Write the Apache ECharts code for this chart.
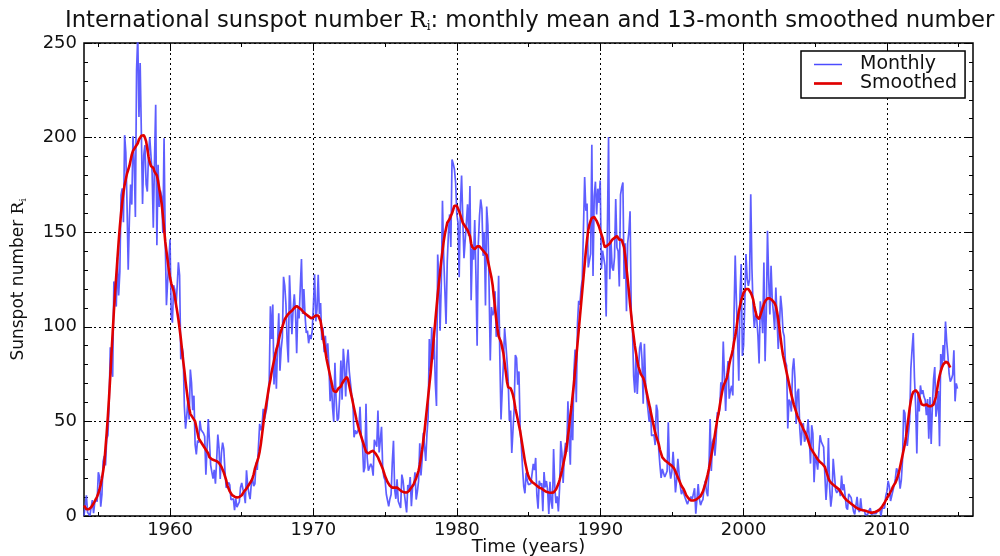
<!DOCTYPE html>
<html><head><meta charset="utf-8">
<script src="https://cdn.jsdelivr.net/npm/echarts@6/dist/echarts.min.js"></script>
<style>html,body{margin:0;padding:0;background:#fff}#c{width:1000px;height:556px}</style>
</head><body><div id="c"></div>
<script>
const startYear = 1954;
const xTickLabels = [1960, 1970, 1980, 1990, 2000, 2010];
const xMinorTicks = [1955, 1965, 1975, 1985, 1995, 2005, 2015];
const yTickLabels = [0, 50, 100, 150, 200, 250];

// Monthly mean sunspot number, Jan 1954 onward
const monthly1950s = [
 0.2, 0.5, 10.9, 1.8, 0.8, 0.2, 4.8, 8.4, 1.5, 7.0, 9.2, 7.6,
 23.1, 20.8, 4.9, 11.3, 28.9, 31.7, 26.7, 40.7, 42.7, 58.5, 89.2, 76.9,
 73.6, 124.0, 118.4, 110.7, 136.6, 116.6, 129.1, 169.6, 173.2, 155.3, 201.3, 192.1,
 165.0, 130.2, 157.4, 175.2, 164.6, 200.7, 187.2, 158.0, 235.8, 253.8, 210.9, 239.4,
 202.5, 164.9, 190.7, 196.0, 175.3, 171.5, 191.4, 200.2, 201.2, 181.5, 152.3, 187.6,
 217.4, 143.1, 185.7, 163.3, 172.0, 168.7, 149.6, 199.6, 145.2, 111.4, 124.0, 125.0
];
const monthly1960s = [
 146.3, 106.0, 102.2, 122.0, 119.6, 110.2, 121.7, 134.1, 127.2, 82.8, 89.6, 85.6,
 57.9, 46.1, 53.0, 61.4, 51.0, 77.4, 70.2, 55.9, 63.6, 37.7, 32.6, 39.9,
 38.7, 50.3, 45.6, 46.4, 43.7, 42.0, 21.8, 21.8, 51.3, 39.5, 26.9, 23.2,
 19.8, 24.4, 17.1, 29.3, 43.0, 35.9, 19.6, 33.2, 38.8, 35.3, 23.4, 14.9,
 15.3, 17.7, 16.5, 8.6, 9.5, 9.1, 3.1, 9.3, 4.7, 6.1, 7.4, 15.1,
 17.5, 14.2, 11.7, 6.8, 24.1, 15.9, 11.9, 8.9, 16.8, 20.1, 15.8, 17.0,
 28.2, 24.4, 25.3, 48.7, 45.3, 47.7, 56.7, 51.2, 50.2, 57.2, 57.2, 70.4,
 110.9, 93.6, 111.8, 69.5, 86.5, 67.3, 91.5, 107.2, 76.8, 88.2, 94.3, 126.4,
 121.8, 111.9, 92.2, 81.2, 127.2, 110.3, 96.1, 109.3, 117.2, 107.7, 86.0, 109.8,
 104.4, 120.5, 135.8, 106.8, 120.0, 106.0, 96.8, 98.0, 91.3, 95.7, 93.5, 97.9
];
const monthly1970s = [
 111.5, 127.8, 102.9, 109.5, 127.5, 106.8, 112.5, 93.0, 99.5, 86.6, 95.2, 83.5,
 91.3, 79.0, 60.7, 71.8, 57.5, 49.8, 81.0, 61.4, 50.2, 51.7, 63.2, 82.2,
 61.5, 88.4, 80.1, 63.2, 80.5, 88.0, 76.5, 76.8, 64.0, 61.3, 41.6, 45.3,
 43.4, 42.9, 46.0, 57.7, 42.4, 39.5, 23.1, 25.6, 59.3, 30.7, 23.9, 23.3,
 27.6, 26.0, 21.3, 40.3, 39.5, 36.6, 55.8, 33.6, 40.2, 47.1, 25.0, 20.5,
 18.9, 11.5, 11.5, 5.1, 9.0, 11.4, 28.2, 39.7, 13.9, 9.1, 19.4, 7.8,
 8.1, 4.3, 21.9, 18.8, 12.4, 12.2, 1.9, 16.4, 13.5, 20.6, 5.2, 15.3,
 16.4, 23.1, 8.7, 12.9, 18.6, 38.5, 21.4, 30.1, 44.0, 43.8, 29.1, 43.2,
 51.9, 93.6, 76.5, 99.7, 82.7, 95.1, 70.4, 58.1, 138.2, 125.1, 97.9, 122.7,
 166.6, 137.5, 138.0, 101.5, 134.4, 149.5, 159.4, 142.2, 188.4, 186.2, 183.3, 176.3
];
const monthly1980s = [
 159.6, 155.0, 126.2, 164.1, 179.9, 157.3, 136.3, 135.4, 155.0, 164.7, 147.9, 174.4,
 114.0, 141.3, 135.5, 156.4, 127.5, 90.0, 143.8, 158.7, 167.3, 162.4, 137.5, 150.1,
 111.2, 163.6, 153.8, 122.0, 82.2, 110.4, 106.1, 107.6, 118.8, 94.7, 98.1, 127.0,
 84.3, 51.0, 66.5, 80.7, 99.2, 91.1, 82.2, 71.8, 50.3, 55.8, 33.3, 33.4,
 57.0, 85.1, 83.5, 69.4, 76.4, 46.1, 37.4, 25.5, 15.7, 12.0, 22.8, 18.7,
 16.5, 15.9, 17.2, 16.2, 27.5, 24.2, 30.7, 11.1, 3.9, 18.6, 16.2, 17.3,
 2.5, 23.2, 15.1, 18.5, 13.7, 1.1, 18.1, 7.4, 3.8, 35.4, 15.2, 6.8,
 10.4, 2.4, 14.7, 39.6, 33.0, 17.4, 33.0, 38.7, 33.9, 60.6, 39.9, 27.1,
 59.0, 40.0, 76.2, 88.0, 60.1, 101.8, 113.8, 111.6, 120.1, 125.1, 125.1, 179.2,
 161.3, 165.1, 131.4, 130.6, 138.5, 196.2, 126.9, 168.9, 176.7, 159.4, 173.0, 165.5
];
const monthly1990s = [
 177.3, 130.5, 140.3, 140.3, 132.2, 105.4, 149.4, 200.3, 125.2, 145.5, 131.4, 129.7,
 136.9, 167.5, 141.9, 140.0, 121.3, 169.7, 173.7, 176.3, 125.3, 144.1, 108.2, 144.4,
 150.0, 161.1, 106.7, 99.8, 73.8, 65.2, 85.7, 64.5, 63.9, 88.7, 91.8, 82.6,
 59.3, 91.0, 69.8, 62.2, 61.3, 49.8, 57.9, 42.4, 43.4, 42.9, 37.5, 58.8,
 55.5, 35.0, 26.9, 20.1, 24.9, 24.5, 20.6, 20.5, 23.7, 49.5, 24.9, 19.7,
 23.4, 33.9, 24.3, 12.5, 19.2, 30.2, 22.5, 16.1, 11.5, 13.8, 14.8, 9.8,
 8.0, 6.2, 8.0, 7.0, 10.2, 8.8, 9.1, 14.7, 1.2, 1.7, 16.9, 9.1,
 5.7, 7.6, 8.7, 15.5, 18.5, 12.7, 10.4, 24.4, 51.3, 23.8, 39.0, 41.2,
 31.9, 40.3, 54.8, 53.4, 56.3, 70.7, 66.6, 92.2, 92.9, 55.5, 74.0, 81.9,
 62.0, 66.3, 68.8, 63.7, 106.4, 137.7, 113.5, 93.7, 71.5, 116.7, 133.2, 84.6
];
const monthly2000s = [
 90.1, 112.9, 138.5, 125.5, 121.6, 124.9, 170.1, 130.5, 109.7, 99.4, 106.8, 104.4,
 95.6, 80.6, 113.5, 107.7, 96.6, 134.0, 81.8, 106.4, 150.7, 125.5, 106.5, 132.2,
 114.1, 107.4, 98.4, 120.7, 120.8, 88.3, 99.6, 116.4, 109.6, 97.5, 95.0, 81.6,
 79.5, 46.2, 61.5, 60.0, 55.2, 77.4, 83.3, 72.7, 48.7, 65.5, 67.3, 46.5,
 37.3, 45.8, 49.1, 39.3, 41.5, 43.2, 51.1, 40.9, 27.7, 48.0, 43.5, 17.9,
 31.3, 29.2, 24.5, 24.2, 42.7, 39.3, 40.1, 36.4, 22.1, 8.5, 18.0, 41.2,
 15.3, 4.9, 10.6, 30.2, 22.3, 13.9, 12.2, 12.9, 14.4, 10.5, 21.4, 13.6,
 16.8, 10.7, 4.5, 3.4, 11.7, 12.1, 9.7, 6.0, 2.4, 0.9, 1.7, 10.1,
 3.3, 2.1, 9.3, 2.9, 2.9, 3.1, 0.5, 0.0, 1.1, 2.9, 4.1, 0.8,
 1.5, 1.4, 0.7, 1.2, 2.9, 2.6, 3.5, 0.0, 4.2, 4.6, 4.2, 10.6
];
const monthly2010s = [
 13.1, 18.6, 15.4, 7.9, 8.8, 13.5, 16.1, 19.6, 25.2, 23.5, 21.6, 14.5,
 19.0, 29.4, 56.2, 54.4, 41.6, 37.0, 43.9, 50.6, 78.0, 88.0, 96.7, 73.0,
 58.3, 33.1, 64.2, 55.2, 69.0, 64.5, 66.5, 63.0, 61.4, 53.3, 61.8, 40.8,
 62.9, 38.1, 57.9, 72.4, 78.7, 52.5, 57.0, 66.0, 36.9, 85.6, 77.6, 90.3,
 82.0, 102.8, 92.2, 84.7, 75.2, 71.0, 72.4, 74.6, 87.6, 60.6, 70.1, 67.3
];

// 13-month smoothed sunspot number, Jan 1954 onward
const smoothed1950s = [
 5.5, 4.5, 3.6, 3.4, 3.6, 4.0, 4.6, 5.5, 6.6, 7.8, 9.0, 10.3,
 12.0, 14.0, 16.6, 19.8, 23.6, 28.0, 36, 44, 53, 63, 74, 86,
 97, 108, 118, 127, 136, 145, 153, 160, 166, 171, 175, 178,
 181, 183, 185, 188, 191, 193, 194, 195, 196, 197, 199, 200,
 201, 201, 201.3, 200, 198, 194, 190, 187, 185, 185, 184, 182,
 181, 180, 177, 173, 169, 165, 159, 152, 145, 140, 135, 130
];
const smoothed1960s = [
 126, 123, 121, 119, 116, 112, 108, 104, 99, 94, 88, 82,
 77, 71, 66, 61, 57, 54, 53, 52, 51, 50, 47, 44,
 41, 40, 39, 38, 37, 36, 35, 34, 33, 31, 30, 30,
 30, 29.5, 29, 29, 29, 28, 27, 26, 25, 23, 21, 19,
 16, 14.5, 13, 12, 11, 10.5, 10.2, 10, 9.8, 9.6, 10, 10.5,
 11, 12, 13, 13.8, 14.5, 15.5, 16.5, 17.5, 18.5, 20, 22, 25,
 27, 29, 31, 34, 38, 43, 48, 53, 57, 61, 65, 69,
 72, 76, 79, 82, 85, 88, 90, 93, 96, 98, 100, 102,
 104, 105, 106, 107, 107.5, 108, 108.5, 109, 110, 110.5, 111, 110.5,
 110, 109.5, 109, 108, 107.5, 107, 106.5, 106, 105.5, 105, 104.5, 104.5
];
const smoothed1970s = [
 105, 105.5, 106, 106, 106, 105, 103, 99, 95, 91, 87, 83,
 80, 77, 74, 71, 68, 66, 65, 65.5, 66.5, 67.5, 68, 68.5,
 70, 71, 72, 73, 73.5, 72, 69, 66, 63, 60, 57, 54,
 51, 48.5, 46, 44, 42, 40, 38, 36, 34, 33, 33, 33.5,
 34, 34.5, 34.5, 34, 33, 32, 31, 29.5, 28, 26.5, 25, 23,
 21, 19.5, 18, 17, 16, 15.5, 15, 15, 15, 15, 15, 14.5,
 14, 13.5, 13, 12.8, 12.5, 12.3, 12.4, 12.8, 13.2, 14, 15, 16,
 17, 18.5, 20, 22, 24, 27, 31, 35, 40, 45, 51, 57,
 63, 69, 75, 82, 89, 96, 103, 110, 117, 123, 129, 135,
 140, 145, 149, 152, 155, 156, 157, 158, 160, 162, 164, 164.5
];
const smoothed1980s = [
 164, 163, 161, 159, 157, 155, 154, 153, 152, 151, 150, 148,
 144, 142, 141, 141, 142, 142.5, 143, 142.5, 142, 141, 140, 139.5,
 139, 138, 135, 132, 129, 126, 122, 116, 110, 104, 99, 95,
 94, 92, 89, 86, 81, 76, 71, 68, 67, 67.5, 66, 64,
 61, 57, 54, 51, 48, 45, 41, 37, 33, 29, 26, 23,
 21, 19.5, 18.5, 18, 17.5, 17, 16.5, 16, 15.5, 15, 15, 14.5,
 14, 13.5, 13, 12.8, 12.6, 12.4, 12.3, 12.3, 12.3, 12.5, 13, 14,
 15.5, 17, 19, 21.5, 24, 27, 30, 33, 37, 42, 47, 53,
 58, 64, 70, 77, 84, 91, 98, 105, 112, 119, 126, 133,
 140, 146, 151, 154, 156, 157.5, 158.5, 158, 157, 156, 155, 153
];
const smoothed1990s = [
 151, 149, 147, 144, 142, 142, 143, 144, 144, 145, 146, 147,
 147, 148, 148, 147, 146, 146, 146, 145, 142, 137, 131, 125,
 119, 112, 106, 100, 95, 90, 86, 82, 79, 77, 75, 74,
 73, 71, 68, 65, 62, 59, 56, 53, 50, 47, 44, 42,
 40, 38, 35, 33, 31, 30, 29.5, 29, 28.5, 28, 27.5, 27,
 26.5, 26, 25, 23.5, 22, 20.5, 19, 17.5, 16, 15, 14, 12.5,
 11, 10, 9.2, 8.7, 8.2, 8.0, 8.2, 8.4, 8.6, 9.0, 9.5, 10,
 10.5, 11, 13, 15, 17, 19.5, 22, 25, 28.5, 32, 35.5, 39,
 43, 47, 51, 54, 58, 62, 65.5, 68.5, 70, 71, 73, 76,
 80, 83, 85, 88, 92, 95, 99, 104, 108, 111, 114, 116
];
const smoothed2000s = [
 118, 119, 120, 120.5, 120, 119, 118, 116.5, 114.5, 111, 108, 105.5,
 104.5, 104, 106, 108, 110, 112, 113.5, 114.5, 115, 115.5, 115, 114.5,
 114, 113.5, 112.5, 111, 108, 104, 99, 94, 89, 85, 82, 79,
 76, 73, 70, 67, 64, 61.5, 59, 57, 55, 53, 51.5, 50,
 49, 47.5, 46, 45, 43.5, 42, 40, 38, 36, 35, 34, 33,
 32, 31, 30, 29, 28.5, 28, 27.5, 27, 26, 24, 22, 20,
 18.5, 17.5, 17, 16.5, 16, 15.5, 15, 14.5, 14, 13, 12, 11,
 10, 9, 8.5, 8, 7.5, 7, 6.5, 6, 5.5, 5, 4.5, 4,
 3.8, 3.5, 3.3, 3.2, 3.0, 2.9, 2.8, 2.6, 2.3, 2.0, 1.8, 1.7,
 1.8, 1.9, 2.1, 2.3, 2.6, 3.0, 3.5, 4.2, 5.0, 6.0, 7.0, 8.3
];
const smoothed2010s = [
 9.5, 10.5, 11.5, 12.5, 14, 15.5, 16.5, 17.5, 19, 21, 23, 26,
 29, 32, 35, 38, 42, 47, 52, 57, 61, 64, 65.5, 66.5,
 66.5, 66, 65, 63, 61, 59, 58, 58.5, 59, 59, 58.5, 58,
 58, 58, 58.5, 59, 60, 63, 67, 71, 74, 76.5, 78.5, 80,
 81, 81.5, 81.9, 81, 80, 78.5
];

const monthlyAll = [].concat(monthly1950s, monthly1960s, monthly1970s, monthly1980s, monthly1990s, monthly2000s, monthly2010s);
const smoothedAll = [].concat(smoothed1950s, smoothed1960s, smoothed1970s, smoothed1980s, smoothed1990s, smoothed2000s, smoothed2010s);
const monthlyPts = monthlyAll.map((v, i) => [startYear + i / 12, v]);
const smoothedPts = smoothedAll.map((v, i) => [startYear + i / 12, v]);

const FONT = 'DejaVu Sans';
const TXT = '#111';
const BLUE = '#4c4cff';
const RED = '#e00000';
const chart = echarts.init(document.getElementById('c'), null, {renderer: 'canvas'});
chart.setOption({
  animation: false,
  backgroundColor: '#fff',
  title: {
    text: 'International sunspot number {r|R}{i|i}: monthly mean and 13-month smoothed number',
    left: 60, top: 4,
    textStyle: {
      fontFamily: FONT, fontSize: 22.7, fontWeight: 'normal', color: TXT,
      rich: {
        r: {fontFamily: 'DejaVu Serif', fontSize: 22.7, color: TXT},
        i: {fontFamily: 'DejaVu Serif', fontSize: 12, color: TXT, verticalAlign: 'bottom', padding: [12, 0, 0, 0]}
      }
    }
  },
  legend: {
    orient: 'vertical', left: 801, top: 51,
    padding: [4, 8, 5, 13],
    itemWidth: 28, itemHeight: 14, itemGap: 0,
    backgroundColor: '#fff', borderColor: '#000', borderWidth: 1.5, borderRadius: 0,
    textStyle: {fontFamily: FONT, fontSize: 19, color: TXT, lineHeight: 18, padding: [0, 0, 0, 13]},
    data: [
      {name: 'Monthly', icon: 'path://M0,0L28,0L28,1.5L0,1.5Z'},
      {name: 'Smoothed', icon: 'path://M0,0L28,0L28,2.7L0,2.7Z'}
    ]
  },
  grid: {left: 84, right: 27, top: 43, bottom: 40, outerBoundsMode: 'none', containLabel: false,
    show: true, borderColor: '#000', borderWidth: 1.5, backgroundColor: 'transparent'},
  xAxis: [
    {
      type: 'value', min: 1954, max: 2016, position: 'bottom',
      axisLine: {show: false},
      axisTick: {show: true, inside: true, length: 8, lineStyle: {color: '#000', width: 1}, customValues: xTickLabels},
      axisLabel: {customValues: xTickLabels, formatter: v => (v % 10 === 0 ? String(v) : ''),
        margin: 5, fontFamily: FONT, fontSize: 18, color: TXT},
      splitLine: {show: true, lineStyle: {color: '#000', type: [2, 3], width: 1}},
      name: 'Time (years)', nameLocation: 'middle', nameGap: 22, nameMoveOverlap: false,
      nameTextStyle: {fontFamily: FONT, fontSize: 18, color: TXT}
    },
    {
      type: 'value', min: 1954, max: 2016, position: 'bottom',
      axisLine: {show: false},
      axisTick: {show: true, inside: true, length: 4, lineStyle: {color: '#000', width: 1}, customValues: xMinorTicks},
      axisLabel: {show: false}, splitLine: {show: false}
    },
    {
      type: 'value', min: 1954, max: 2016, position: 'top',
      axisLine: {show: false},
      axisTick: {show: true, inside: true, length: 8, lineStyle: {color: '#000', width: 1}, customValues: xTickLabels},
      axisLabel: {show: false}, splitLine: {show: false}
    },
    {
      type: 'value', min: 1954, max: 2016, position: 'top',
      axisLine: {show: false},
      axisTick: {show: true, inside: true, length: 4, lineStyle: {color: '#000', width: 1}, customValues: xMinorTicks},
      axisLabel: {show: false}, splitLine: {show: false}
    }
  ],
  yAxis: [
    {
      type: 'value', min: 0, max: 250, interval: 50, position: 'left',
      axisLine: {show: false},
      axisTick: {show: true, inside: true, length: 8, lineStyle: {color: '#000', width: 1}},
      minorTick: {show: true, splitNumber: 5, length: 4, lineStyle: {color: '#000', width: 1}},
      axisLabel: {margin: 7, fontFamily: FONT, fontSize: 18, color: TXT},
      splitLine: {show: true, lineStyle: {color: '#000', type: [2, 3], width: 1}},
      name: '{a|Sunspot number }{r|R}{i|i}', nameLocation: 'middle', nameGap: 56, nameRotate: 90, nameMoveOverlap: false,
      nameTextStyle: {
        fontFamily: FONT, fontSize: 17, color: TXT,
        rich: {
          a: {fontFamily: FONT, fontSize: 17, color: TXT},
          r: {fontFamily: 'DejaVu Serif', fontSize: 17, color: TXT},
          i: {fontFamily: 'DejaVu Serif', fontSize: 10, color: TXT, verticalAlign: 'bottom', padding: [9, 0, 0, 0]}
        }
      }
    },
    {
      type: 'value', min: 0, max: 250, interval: 50, position: 'right',
      axisLine: {show: false},
      axisTick: {show: true, inside: true, length: 8, lineStyle: {color: '#000', width: 1}},
      minorTick: {show: true, splitNumber: 5, length: 4, lineStyle: {color: '#000', width: 1}},
      axisLabel: {show: false}, splitLine: {show: false}
    }
  ],
  series: [
    {
      name: 'Monthly', type: 'line', xAxisIndex: 0, yAxisIndex: 0, data: monthlyPts,
      symbol: 'none', clip: true,
      lineStyle: {color: BLUE, width: 1.7, opacity: 0.9},
      itemStyle: {color: BLUE}, z: 2
    },
    {
      name: 'Smoothed', type: 'line', xAxisIndex: 0, yAxisIndex: 0, data: smoothedPts,
      symbol: 'none', clip: true,
      lineStyle: {color: RED, width: 2.6},
      itemStyle: {color: RED}, z: 3
    }
  ]
});
</script>
</body></html>
